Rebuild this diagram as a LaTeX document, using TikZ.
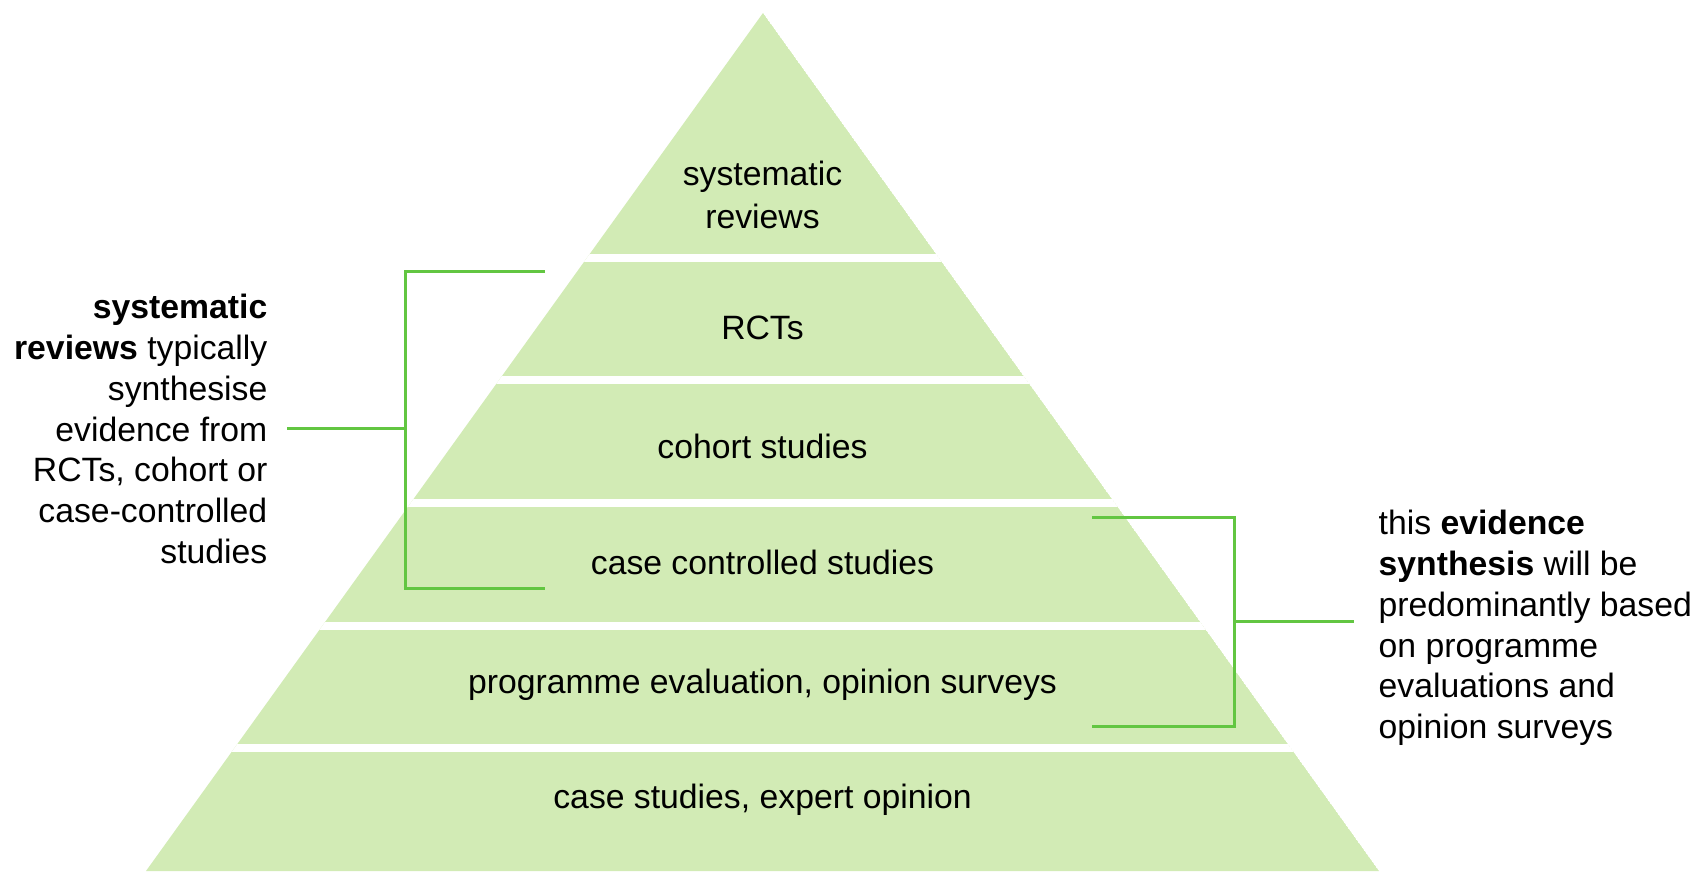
\documentclass[tikz,border=0pt]{standalone}
\usepackage{fontspec}
\setmainfont{Liberation Sans}
\definecolor{tiergreen}{HTML}{D2EBB5}
\definecolor{bracegreen}{HTML}{62C641}
\begin{document}
\begin{tikzpicture}[font=\fontsize{9.6}{11.6}\selectfont]

    % Styles
    \tikzstyle{tier} = [fill=tiergreen]
    \tikzstyle{gap} = [draw=white, line width=0.08cm]
    \tikzstyle{level} = [text centered, align=center, inner sep=0pt]
    \tikzstyle{note} = [inner ysep=0pt]
    \tikzstyle{brace} = [draw=bracegreen, line width=0.03cm]

    \useasboundingbox (0,0) rectangle (16.99,8.71);

    % Pyramide
    \coordinate (apex) at (7.63,8.58);
    \coordinate (baseL) at (1.46,0);
    \coordinate (baseR) at (13.79,0);
    \begin{scope}
        \clip (apex) -- (baseL) -- (baseR) -- cycle;
        \fill [tier] (apex) -- (baseL) -- (baseR) -- cycle;
        \foreach \y in {6.13,4.905,3.68,2.455,1.23}
            \draw [gap] (0,\y) -- (17,\y);
    \end{scope}

    % Niveaux
    \node (sysrev) [level] at (7.625,6.76) {systematic\\[0.02cm]reviews};
    \node (rct) [level] at (7.625,5.43) {RCTs};
    \node (cohort) [level] at (7.625,4.25) {cohort studies};
    \node (casectrl) [level] at (7.625,3.09) {case controlled studies};
    \node (progeval) [level] at (7.625,1.865) {programme evaluation, opinion surveys};
    \node (casestud) [level] at (7.625,0.71) {case studies, expert opinion};

    % Notes
    \node (srnote) [note, align=right, anchor=east, inner xsep=0.19cm] at (2.87,4.42)
        {\textbf{systematic}\\\textbf{reviews} typically\\synthesise\\evidence from\\RCTs, cohort or\\case-controlled\\studies};
    \node (esnote) [note, align=left, anchor=west, inner xsep=0.24cm] at (13.54,2.43)
        {this \textbf{evidence}\\\textbf{synthesis} will be\\predominantly based\\on programme\\evaluations and\\opinion surveys};

    % Accolades
    \coordinate (sr-top) at (5.45,5.99);
    \coordinate (sr-bot) at (5.45,2.82);
    \coordinate (sr-mid) at (4.05,4.42);
    \coordinate (es-top) at (10.92,3.54);
    \coordinate (es-bot) at (10.92,1.45);
    \coordinate (es-mid) at (12.34,2.50);
    \draw [brace] (sr-top) -- ++(-1.40,0) |- (sr-bot);
    \draw [brace] (srnote.east) -- (sr-mid);
    \draw [brace] (es-top) -- ++(1.42,0) |- (es-bot);
    \draw [brace] (es-mid) -- (esnote.west |- es-mid);

\end{tikzpicture}
\end{document}
